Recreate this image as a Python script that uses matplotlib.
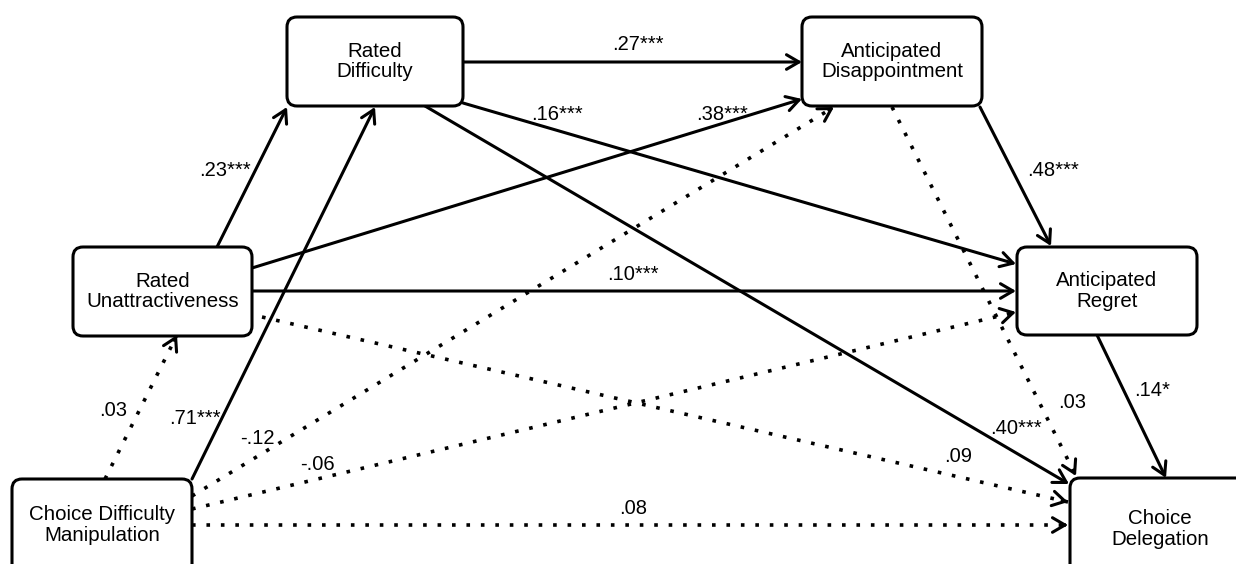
import matplotlib
matplotlib.use("Agg")
import matplotlib.pyplot as plt
from matplotlib.patches import FancyBboxPatch

plt.rcParams['font.family'] = ['Liberation Sans', 'DejaVu Sans']

# node names and path coefficients
node_keys = ["RD", "AD", "RU", "AR", "CDM", "CD"]
node_labels = ["Rated\nDifficulty", "Anticipated\nDisappointment", "Rated\nUnattractiveness",
               "Anticipated\nRegret", "Choice Difficulty\nManipulation", "Choice\nDelegation"]

path_src = ["RU", "CDM", "RD", "RD", "RU", "RU", "AD", "RD", "AR",
            "CDM", "CDM", "CDM", "CDM", "RU", "AD"]
path_dst = ["RD", "RD", "AD", "AR", "AD", "AR", "AR", "CD", "CD",
            "RU", "AD", "AR", "CD", "CD", "CD"]
path_coef = [".23***", ".71***", ".27***", ".16***", ".38***", ".10***", ".48***", ".40***", ".14*",
             ".03", "-.12", "-.06", ".08", ".09", ".03"]
path_signif = [True] * 9 + [False] * 6

# layout (pixels, y downwards)
box_pos = {  # x0, y0, x1, y1
    "RD": (287, 17, 463, 106),
    "AD": (802, 17, 982, 106),
    "RU": (73, 247, 252, 336),
    "AR": (1017, 247, 1197, 335),
    "CDM": (12, 479, 192, 600),
    "CD": (1070, 478, 1260, 600),
}
text_pos = {"CDM": (102, 525), "CD": (1160, 529)}
path_ends = [
    ((217, 247), (287, 107)),
    ((192, 479), (375, 107)),
    ((463, 62), (802, 62)),
    ((463, 103), (1016, 264)),
    ((252, 268), (802, 99)),
    ((252, 291), (1016, 291)),
    ((980, 107), (1051, 246)),
    ((425, 106), (1069, 484)),
    ((1097, 335), (1166, 478)),
    ((105, 479), (177, 335)),
    ((192, 496), (834, 107)),
    ((192, 509), (1016, 312)),
    ((192, 525), (1068, 525)),
    ((262, 317), (1068, 502)),
    ((892, 107), (1076, 476)),
]
label_pos = [(225, 170), (195, 418), (638, 45), (557, 115), (722, 115), (633, 275),
             (1053, 171), (1016, 428), (1152, 390),
             (113, 410), (257, 438), (317, 465), (633, 508), (958, 457), (1072, 403)]

fig = plt.figure(figsize=(12.36, 5.64), dpi=100)
ax = fig.add_axes([0, 0, 1, 1])
ax.set_xlim(0, 1236)
ax.set_ylim(564, 0)
ax.axis('off')

for key, lab in zip(node_keys, node_labels):
    x0, y0, x1, y1 = box_pos[key]
    ax.add_patch(FancyBboxPatch((x0 + 9, y0 + 9), x1 - x0 - 18, y1 - y0 - 18,
                                boxstyle="round,pad=9,rounding_size=10",
                                fc='white', ec='black', lw=2.2, zorder=3))
    tx, ty = text_pos.get(key, ((x0 + x1) / 2, (y0 + y1) / 2))
    ax.text(tx, ty, lab, ha='center', va='center', fontsize=14.8, linespacing=1.08, zorder=4)

head = dict(arrowstyle='->,head_length=0.6,head_width=0.35', lw=2.2,
            color='black', mutation_scale=15, shrinkA=0, shrinkB=0)

for (p0, p1), ok in zip(path_ends, path_signif):
    if ok:
        ax.annotate('', xy=p1, xytext=p0, arrowprops=head, zorder=2)
    else:
        ax.plot([p0[0], p1[0]], [p0[1], p1[1]], color='black', lw=2.6,
                linestyle=(0, (1, 3)), zorder=2)
        dx, dy = p1[0] - p0[0], p1[1] - p0[1]
        n = (dx ** 2 + dy ** 2) ** 0.5
        q = (p1[0] - dx / n * 6, p1[1] - dy / n * 6)
        ax.annotate('', xy=p1, xytext=q, arrowprops=head, zorder=2)

for coef, (lx, ly) in zip(path_coef, label_pos):
    ax.text(lx, ly, coef, ha='center', va='center', fontsize=14.5, zorder=4)

fig.savefig("out.png", dpi=100, facecolor='white')
